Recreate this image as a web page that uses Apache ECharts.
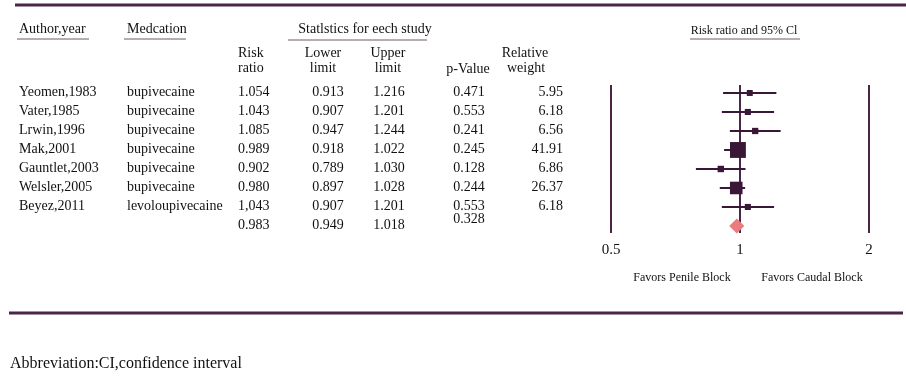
<!DOCTYPE html>
<html>
<head>
<meta charset="utf-8">
<script src="https://cdn.jsdelivr.net/npm/echarts@6/dist/echarts.min.js"></script>
<style>
    html, body { margin: 0; padding: 0; background: #fff; }
    #main { width: 906px; height: 378px; }
</style>
</head>
<body>
<div id="main"></div>
<script>
var authors = ['Yeomen,1983', 'Vater,1985', 'Lrwin,1996', 'Mak,2001', 'Gauntlet,2003', 'Welsler,2005', 'Beyez,2011', ''];
var drugs = ['bupivecaine', 'bupivecaine', 'bupivecaine', 'bupivecaine', 'bupivecaine', 'bupivecaine', 'levoloupivecaine', ''];
var riskRatio = [1.054, 1.043, 1.085, 0.989, 0.902, 0.980, 1.043, 0.983];
var riskText = ['1.054', '1.043', '1.085', '0.989', '0.902', '0.980', '1,043', '0.983'];
var lower = [0.913, 0.907, 0.947, 0.918, 0.789, 0.897, 0.907, 0.949];
var upper = [1.216, 1.201, 1.244, 1.022, 1.030, 1.028, 1.201, 1.018];
var pValue = ['0.471', '0.553', '0.241', '0.245', '0.128', '0.244', '0.553', '0.328'];
var weight = [5.95, 6.18, 6.56, 41.91, 6.86, 26.37, 6.18, null];

var serif = '"Liberation Serif", "Times New Roman", serif';
var ink = '#3a1736';
var rule = '#4a2546';

var chart = echarts.init(document.getElementById('main'));

// study rows (summary row is drawn as diamond)
var ciData = [];
var pointData = [];
for (var i = 0; i < 7; i++) {
    ciData.push([i, lower[i], upper[i]]);
    pointData.push([riskRatio[i], i, weight[i]]);
}
var summaryData = [[7, lower[7], upper[7], riskRatio[7]]];

var option = {
    animation: false,
    grid: { left: 611, right: 37, top: 85, bottom: 145 },
    xAxis: {
        type: 'log',
        logBase: 2,
        min: 0.5,
        max: 2,
        axisLine: { show: false },
        axisTick: { show: false },
        splitLine: { show: true, lineStyle: { color: '#4a2646', width: 2 } },
        axisLabel: { fontFamily: serif, fontSize: 15, color: '#111', margin: 10 }
    },
    yAxis: {
        type: 'value',
        inverse: true,
        min: -0.42,
        max: 7.37,
        show: false
    },
    series: [
        {
            type: 'custom',
            data: ciData,
            encode: { x: [1, 2], y: 0 },
            renderItem: function (params, api) {
                var a = api.coord([api.value(1), api.value(0)]);
                var b = api.coord([api.value(2), api.value(0)]);
                return {
                    type: 'line',
                    shape: { x1: a[0], y1: a[1], x2: b[0], y2: b[1] },
                    style: { stroke: ink, lineWidth: 2 }
                };
            }
        },
        {
            type: 'scatter',
            symbol: 'rect',
            data: pointData,
            symbolSize: function (v) { return 2.45 * Math.sqrt(v[2]); },
            itemStyle: { color: ink, opacity: 1 }
        },
        {
            type: 'custom',
            data: summaryData,
            encode: { x: [1, 2], y: 0 },
            renderItem: function (params, api) {
                var y = api.value(0);
                var l = api.coord([api.value(1), y]);
                var r = api.coord([api.value(2), y]);
                var c = api.coord([api.value(3), y]);
                return {
                    type: 'polygon',
                    shape: { points: [[l[0] - 1, l[1]], [c[0], c[1] - 7.5], [r[0] + 1, r[1]], [c[0], c[1] + 7.5]] },
                    style: { fill: '#ea7b7f' }
                };
            }
        }
    ]
};
chart.setOption(option);

// table text, rows placed through the y scale
function txt(s, x, y, align, size) {
    return {
        type: 'text',
        style: {
            text: s, x: x, y: y, fill: '#111',
            font: (size || 14) + 'px ' + serif,
            textAlign: align || 'left', textVerticalAlign: 'middle'
        }
    };
}
function hline(x1, x2, y, w, color) {
    return {
        type: 'line',
        shape: { x1: x1, y1: y, x2: x2, y2: y },
        style: { stroke: color || '#6a5868', lineWidth: w || 1 }
    };
}

var g = [];
g.push(hline(15, 906, 5, 3, rule));
g.push(hline(9, 903, 313, 3, rule));

g.push(txt('Author,year', 19, 29, 'left', 14));
g.push(hline(17, 89, 39));
g.push(txt('Medcation', 127, 29, 'left', 14));
g.push(hline(124, 186, 39));
g.push(txt('Statlstics for eech study', 365, 29, 'center', 14));
g.push(hline(288, 427, 40));
g.push(txt('Risk ratio and 95% Cl', 744, 31, 'center', 12));
g.push(hline(690, 800, 39));

g.push(txt('Risk', 238, 53));
g.push(txt('ratio', 238, 68));
g.push(txt('Lower', 323, 53, 'center'));
g.push(txt('limit', 323, 68, 'center'));
g.push(txt('Upper', 388, 53, 'center'));
g.push(txt('limit', 388, 68, 'center'));
g.push(txt('p-Value', 468, 69, 'center'));
g.push(txt('Relative', 525, 53, 'center'));
g.push(txt('weight', 526, 68, 'center'));

for (var r = 0; r < 8; r++) {
    var y = chart.convertToPixel({ yAxisIndex: 0 }, r) - 1;
    g.push(txt(authors[r], 19, y));
    g.push(txt(drugs[r], 127, y));
    g.push(txt(riskText[r], 238, y));
    g.push(txt(lower[r].toFixed(3), 328, y, 'center'));
    g.push(txt(upper[r].toFixed(3), 389, y, 'center'));
    g.push(txt(pValue[r], 469, r === 7 ? y - 6 : y, 'center'));
    if (weight[r] != null) g.push(txt(weight[r].toFixed(2), 563, y, 'right'));
}

g.push(txt('Favors Penile Block', 682, 278, 'center', 12));
g.push(txt('Favors Caudal Block', 812, 278, 'center', 12));
g.push(txt('Abbreviation:CI,confidence interval', 10, 364, 'left', 16));

chart.setOption({ graphic: g });
window.onresize = chart.resize;
</script>
</body>
</html>
